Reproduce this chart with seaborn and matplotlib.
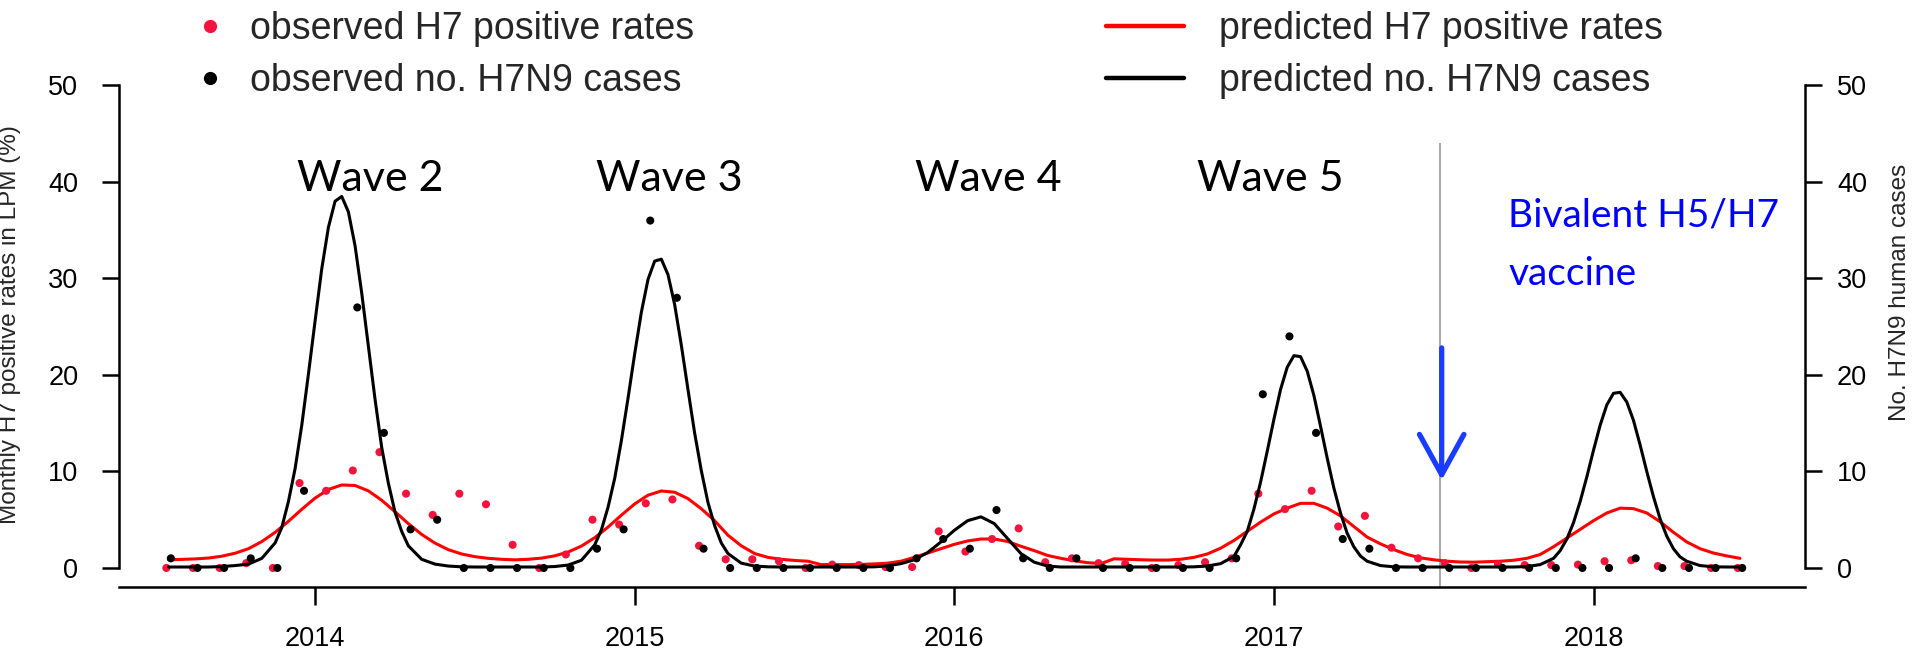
import numpy as np
import pandas as pd
import matplotlib
matplotlib.use("Agg")
import matplotlib.pyplot as plt
import seaborn as sns
from matplotlib.lines import Line2D

sns.set_theme(style="white")
plt.rcParams["font.family"] = ["Liberation Sans", "DejaVu Sans"]

# ---------------------------------------------------------------------------
# Monthly observations, July 2013 - June 2018
# ---------------------------------------------------------------------------
months = pd.period_range("2013-07", "2018-06", freq="M")

# observed H7 positive rate in live poultry markets (%)
obs_rate = [0, 0, 0, 0.5, 0, 8.8, 8.0, 10.1, 12.0, 7.7, 5.5, 7.7,
            6.6, 2.4, 0, 1.4, 5.0, 4.5, 6.7, 7.1, 2.3, 0.9, 0.9, 0.7,
            0, 0.35, 0.3, 0.1, 0.1, 3.8, 1.7, 3.0, 4.1, 0.6, 1.0, 0.5,
            0.45, 0, 0.3, 0.6, 1.0, 7.7, 6.1, 8.0, 4.3, 5.4, 2.1, 1.0,
            0.5, 0, 0.4, 0.3, 0.3, 0.35, 0.7, 0.8, 0.2, 0.2, 0, 0]

# observed number of human H7N9 cases (Jan 2014 lies above the axis range)
obs_cases = [1, 0, 0, 1, 0, 8, np.nan, 27, 14, 4, 5, 0,
             0, 0, 0, 0, 2, 4, 36, 28, 2, 0, 0, 0,
             0, 0, 0, 0, 1, 3, 2, 6, 1, 0, 1, 0,
             0, 0, 0, 0, 1, 18, 24, 14, 3, 2, 0, 0,
             0, 0, 0, 0, 0, 0, 0, 1, 0, 0, 0, 0]

# ---------------------------------------------------------------------------
# Model predictions (time in months after mid-July 2013)
# ---------------------------------------------------------------------------
pred_rate_t = np.arange(0, 59.01, 0.5)
pred_rate = [
    # 2013/14
    0.85, 0.89, 0.94, 1.03, 1.22, 1.53, 2.0, 2.74, 3.69, 4.84, 6.08, 7.24, 8.14,
    8.6, 8.55, 7.99, 7.02, 5.83, 4.6, 3.48, 2.58, 1.9, 1.45, 1.17, 1.0, 0.9,
    # 2014/15
    0.84, 0.9, 1.02, 1.26, 1.65, 2.27, 3.14, 4.24, 5.47, 6.64, 7.54, 7.98,
    7.85, 7.19, 6.14, 4.9, 3.4, 2.3, 1.5, 1.1, 0.9, 0.78, 0.7,
    # 2015/16
    0.35, 0.35, 0.35, 0.37, 0.42, 0.5, 0.7, 1.1, 1.55, 2.0, 2.45, 2.8, 3.0,
    3.0, 2.75, 2.25, 1.8, 1.3, 1.0, 0.75, 0.55, 0.45,
    # 2016/17
    0.95, 0.9, 0.85, 0.82, 0.82, 0.9, 1.1, 1.45, 2.05, 2.85, 3.8, 4.75, 5.6,
    6.2, 6.7, 6.7, 6.2, 5.4, 4.3, 3.2, 2.5, 1.9, 1.4, 1.05, 0.85, 0.7, 0.62,
    0.6,
    # 2017/18
    0.65, 0.7, 0.8, 1.0, 1.4, 2.2, 3.1, 4.0, 4.9, 5.7, 6.2, 6.15, 5.7, 4.8,
    3.7, 2.7, 2.0, 1.55, 1.25, 1.0,
]

pred_cases_t = np.r_[np.arange(0, 3.51, 0.5), np.arange(4, 9.01, 0.25),
                     np.arange(9.5, 15.51, 0.5), np.arange(16, 21.01, 0.25),
                     np.arange(21.5, 39.51, 0.5), np.arange(40, 45.01, 0.25),
                     np.arange(45.5, 51.51, 0.5), np.arange(52, 57.01, 0.25),
                     np.arange(57.5, 59.01, 0.5)]
pred_cases = [
    0.1, 0.1, 0.1, 0.1, 0.15, 0.25, 0.4, 1.0,
    2.6, 4.2, 6.9, 10.3, 14.8, 20.1, 25.6, 31.0, 35.3, 38.0, 38.5, 36.9,
    33.4, 28.5, 23.0, 17.5, 12.5, 8.8, 5.8, 3.8, 2.3,
    0.9, 0.4, 0.2, 0.12, 0.1, 0.1, 0.1, 0.1, 0.1, 0.1, 0.15, 0.3, 0.8,
    2.4, 3.95, 6.3, 9.3, 13.2, 17.6, 22.2, 26.5, 29.9, 31.8, 32.0, 30.4,
    27.3, 23.1, 18.5, 14.0, 10.1, 6.8, 4.4, 2.6, 1.5,
    0.5, 0.2, 0.12, 0.1, 0.1, 0.1, 0.1, 0.1, 0.1, 0.1, 0.12, 0.22, 0.45,
    0.85, 1.6, 2.7, 3.9, 4.9, 5.3, 4.6, 3.05, 1.5, 0.6, 0.2, 0.1, 0.1, 0.1,
    0.1, 0.1, 0.1, 0.1, 0.1, 0.1, 0.1, 0.12, 0.2, 0.45,
    1.2, 2.4, 3.8, 6.1, 8.9, 12.1, 15.4, 18.5, 20.8, 22.0, 21.9, 20.4,
    17.9, 14.7, 11.4, 8.3, 5.7, 3.6, 2.2, 1.24, 0.7,
    0.25, 0.12, 0.1, 0.1, 0.1, 0.1, 0.1, 0.1, 0.1, 0.1, 0.1, 0.15, 0.35,
    1.0, 1.8, 3.0, 4.7, 6.9, 9.45, 12.2, 14.8, 16.9, 18.1, 18.2, 17.2,
    15.3, 12.75, 10.0, 7.4, 5.1, 3.3, 2.0, 1.15, 0.7,
    0.25, 0.12, 0.1, 0.1,
]

wave_labels = ["Wave 2", "Wave 3", "Wave 4", "Wave 5"]
wave_x = [2014.172, 2015.108, 2016.106, 2016.988]
vaccine_date = 2017.52
vaccine_lines = ["Bivalent H5/H7", "vaccine"]
year_ticks = [2014, 2015, 2016, 2017, 2018]
y_ticks = [0, 10, 20, 30, 40, 50]

# ---------------------------------------------------------------------------
month_year = np.array([p.year + (p.month - 0.5) / 12 for p in months])
rate_year = 2013 + (6.5 + pred_rate_t) / 12
cases_year = 2013 + (6.5 + pred_cases_t) / 12

RED_LINE = "#ff0000"
RED_PT = "#f2143c"
BLUE = "#0000ff"
LABEL_FONT = ["Lato", "DejaVu Sans"]

fig = plt.figure(figsize=(19.15, 6.5), dpi=100)
ax = fig.add_axes([0.0619, 0.0965, 0.8807, 0.8017])
ax2 = ax.twinx()

YLIM = (-2, 52)
XLIM = (2013.385, 2018.662)

# H7 positive rates on the left axis
sns.lineplot(x=rate_year, y=pred_rate, ax=ax, color=RED_LINE, linewidth=2.2,
             estimator=None, sort=False, legend=False, zorder=3)
sns.scatterplot(x=month_year - 0.007, y=obs_rate, ax=ax, color=RED_PT, s=34,
                edgecolor="none", linewidth=0, legend=False, zorder=4)

# human cases on the right axis
sns.lineplot(x=cases_year, y=pred_cases, ax=ax2, color="black", linewidth=2.2,
             estimator=None, sort=False, legend=False, zorder=3)
sns.scatterplot(x=month_year + 0.007, y=obs_cases, ax=ax2, color="black", s=34,
                edgecolor="none", linewidth=0, legend=False, zorder=4)

for a in (ax, ax2):
    a.set_xlim(*XLIM)
    a.set_ylim(*YLIM)
    a.set_xlabel("")
    a.set_ylabel("")
    a.set_facecolor("none")

ax.set_yticks(y_ticks)
ax.set_xticks(year_ticks)
ax.set_xticklabels([str(y) for y in year_ticks])
ax2.set_yticks(y_ticks)

for s in ("top", "right"):
    ax.spines[s].set_visible(False)
for s in ("top", "left", "bottom"):
    ax2.spines[s].set_visible(False)
ax.spines["left"].set_bounds(0, 50)
ax2.spines["right"].set_bounds(0, 50)
for sp in (ax.spines["left"], ax.spines["bottom"], ax2.spines["right"]):
    sp.set_color("black")
    sp.set_linewidth(1.8)

ax.tick_params(axis="y", which="both", left=True, length=12, width=1.8,
               pad=17, labelsize=19.5, colors="black")
ax.tick_params(axis="x", which="both", bottom=True, length=13, width=1.8,
               pad=15, labelsize=19.5, colors="black")
ax2.tick_params(axis="y", which="both", right=True, length=12, width=1.8,
                pad=11, labelsize=19.5, colors="black")

ax.set_ylabel("Monthly H7 positive rates in LPM (%)", fontsize=17.5)
ax.yaxis.set_label_coords(-0.0578, 0.505)
ax2.set_ylabel("No. H7N9 human cases", fontsize=17.5, rotation=90)
ax2.yaxis.set_label_coords(1.0500, 0.565)

# vaccination start
ax.vlines(vaccine_date, YLIM[0], 44, color="#9a9a9a", linewidth=1.2, zorder=2)
ax.annotate("", xy=(2017.525, 9.1), xytext=(2017.525, 22.8),
            arrowprops=dict(arrowstyle="->,head_length=1.45,head_width=0.8",
                            color="#1a3cff", lw=3.8, mutation_scale=20,
                            shrinkA=0, shrinkB=0), zorder=5)
for line, yb in zip(vaccine_lines, [35.4, 29.3]):
    ax.text(2017.733, yb, line, color=BLUE, family=LABEL_FONT, fontsize=28,
            ha="left", va="baseline", zorder=5)

for lab, x in zip(wave_labels, wave_x):
    ax.text(x, 39.1, lab, family=LABEL_FONT, fontsize=31,
            ha="center", va="baseline", color="black", zorder=5)

# legends
obs_handles = [Line2D([], [], ls="none", marker="o", markersize=9.5,
                      markerfacecolor=RED_PT, markeredgecolor="none"),
               Line2D([], [], ls="none", marker="o", markersize=9.5,
                      markerfacecolor="black", markeredgecolor="none")]
pred_handles = [Line2D([], [], color=RED_LINE, lw=3.2),
                Line2D([], [], color="black", lw=3.2)]

fig.legend(obs_handles,
           ["observed H7 positive rates", "observed no. H7N9 cases"],
           loc="upper left", bbox_to_anchor=(191 / 1915, 1 - 11 / 650),
           frameon=False, fontsize=27, handlelength=1.0,
           handletextpad=0.57, labelspacing=0.42, borderpad=0,
           borderaxespad=0)
fig.legend(pred_handles,
           ["predicted H7 positive rates", "predicted no. H7N9 cases"],
           loc="upper left", bbox_to_anchor=(1106 / 1915, 1 - 11 / 650),
           frameon=False, fontsize=27, handlelength=2.08,
           handletextpad=0.93, labelspacing=0.42, borderpad=0,
           borderaxespad=0)

fig.savefig("out.png", dpi=100, facecolor="white")
